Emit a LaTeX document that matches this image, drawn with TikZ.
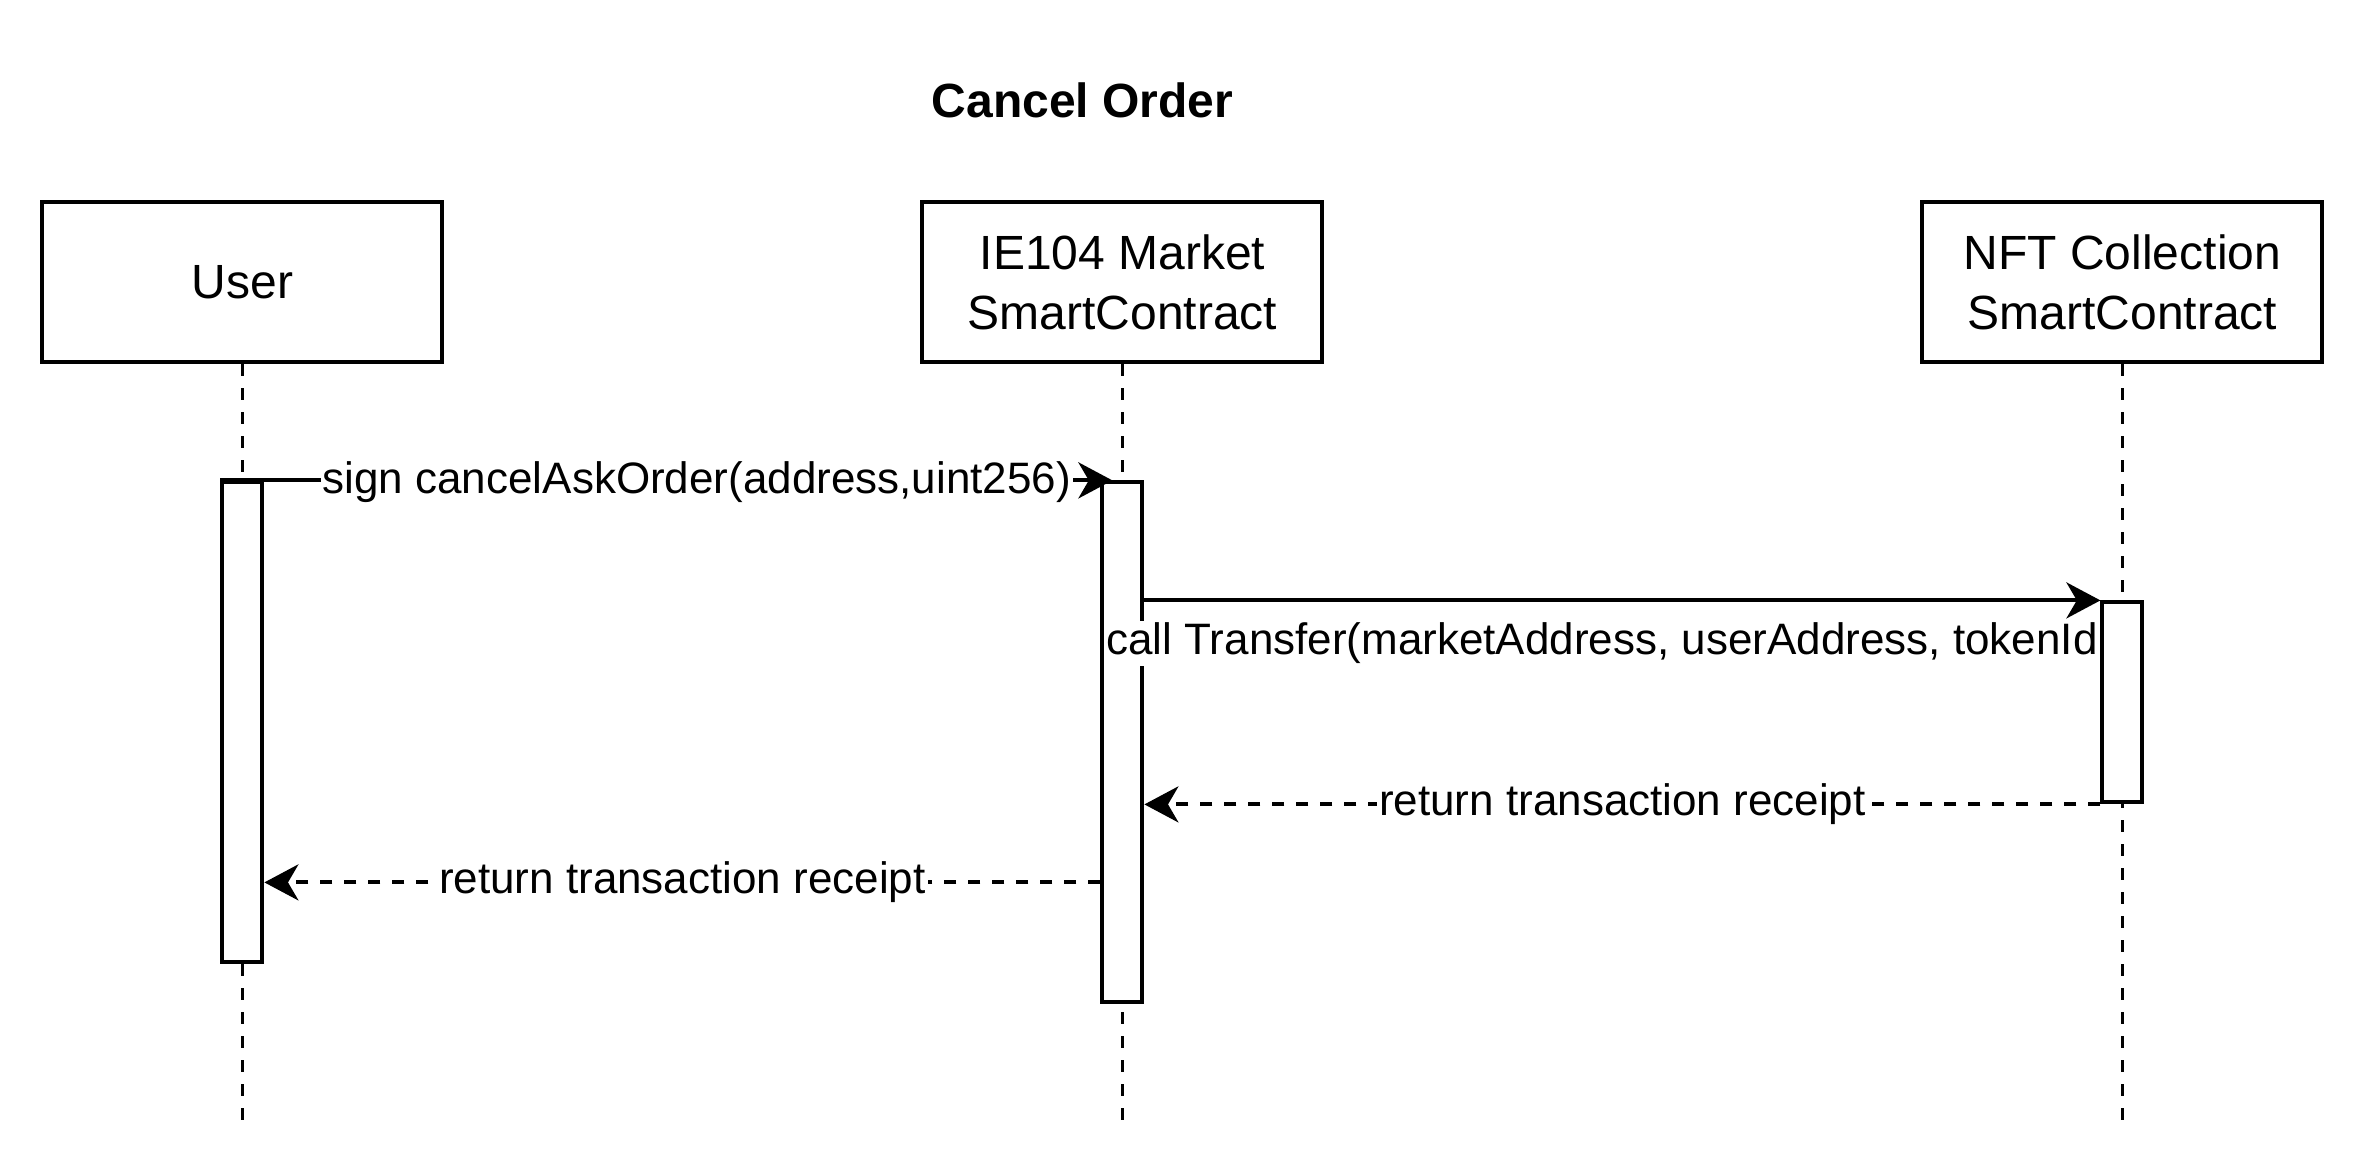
\documentclass[tikz,border=0pt]{standalone}
\usepackage{fontspec}
\setmainfont{Liberation Sans}
\usetikzlibrary{arrows.meta}
\begin{document}
\begin{tikzpicture}[x=1pt,y=-1pt,
  actor/.style={draw, line width=1pt, minimum width=100pt, minimum height=40pt, align=center, font=\fontsize{12}{15}\selectfont, inner sep=0pt},
  actbar/.style={draw, fill=white, line width=1pt, minimum width=10pt, inner sep=0pt},
  lifeline/.style={line width=0.9pt, dash pattern=on 3pt off 3pt},
  msg/.style={line width=1pt, -{Stealth[length=8.5pt,width=9pt,inset=2.6pt]}},
  reply/.style={msg, dash pattern=on 3pt off 3pt},
  lbl/.style={fill=white, inner sep=0.5pt, font=\fontsize{11}{13.2}\selectfont}
]
\useasboundingbox (-0.6,-0.6) rectangle (590.4,290.4);
\node[font=\bfseries\fontsize{12}{14}\selectfont] (title) at (270,24.5) {Cancel Order};
\node[actor] (user) at (60,70) {User};
\node[actor] (market) at (280,70) {IE104 Market\\SmartContract};
\node[actor] (nft) at (530,70) {NFT Collection\\SmartContract};
\coordinate (uend) at (60,280);
\coordinate (mend) at (280,280);
\coordinate (nend) at (530,280);
\draw[lifeline] (user.south) -- (uend);
\draw[lifeline] (market.south) -- (mend);
\draw[lifeline] (nft.south) -- (nend);
\node[actbar, minimum height=120pt] (uact) at (60,180) {};
\node[actbar, minimum height=130pt] (mact) at (280,185) {};
\node[actbar, minimum height=50pt] (nact) at (530,175) {};
% message 1
\draw[msg] (uact.north west) -- ([xshift=3pt]mact.north west);
\node[lbl] (l1) at (173.6,120) {sign cancelAskOrder(address,uint256)};
% message 2
\draw[msg] (mact.east |- nact.north) -- (nact.north west);
\node[lbl, anchor=east] (l2) at (524.5,160.2) {call Transfer(marketAddress, userAddress, tokenId};
% reply 3
\draw[reply] (nact.south west) -- (mact.east |- nact.south) node[midway, lbl] (l3) {return transaction receipt};
% reply 4
\coordinate (r4) at (0,220);
\draw[reply] (mact.west |- r4) -- (uact.east |- r4) node[midway, lbl] (l4) {return transaction receipt};
\end{tikzpicture}
\end{document}
